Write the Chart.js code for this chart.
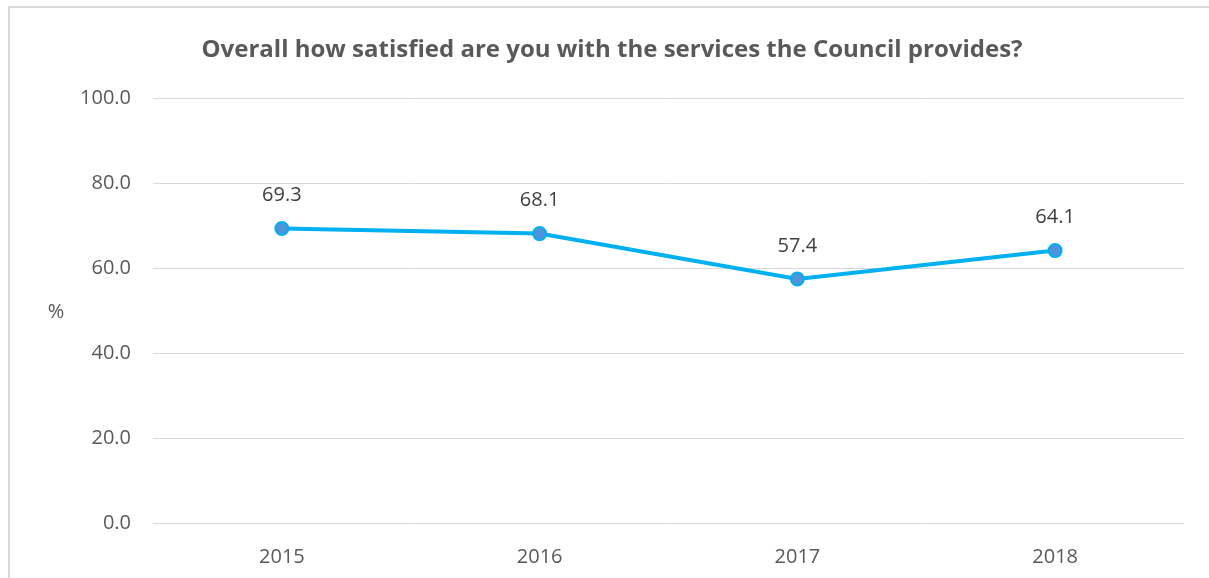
<!DOCTYPE html>
<html>
<head>
<meta charset="utf-8">
<script src="https://cdn.jsdelivr.net/npm/chart.js@4"></script>
<style>
  html, body { margin: 0; padding: 0; background: #fff; }
  #wrap { position: relative; width: 1209px; height: 578px; overflow: hidden; }
  #frame { position: absolute; left: 8px; top: 6px; width: 1210px; height: 600px;
           border-left: 2px solid #d9d9d9; border-top: 2px solid #d9d9d9; box-sizing: border-box; }
  canvas { position: absolute; left: 0; top: 0; }
</style>
</head>
<body>
<div id="wrap">
  <div id="frame"></div>
  <canvas id="my_chart" width="1209" height="578"></canvas>
</div>
<script>
const years = ['2015', '2016', '2017', '2018'];
const satisfied = [69.3, 68.1, 57.4, 64.1];
const y_ticks = [0, 20, 40, 60, 80, 100];

const font_family = "'Open Sans', 'Liberation Sans', sans-serif";

// title, "%" label and the value labels are drawn by hand
const extras = {
    id: 'extras',
    afterDatasetsDraw(chart) {
        const ctx = chart.ctx;
        const area = chart.chartArea;
        ctx.save();
        ctx.fillStyle = '#595959';
        ctx.font = 'bold 24px ' + font_family;
        ctx.textAlign = 'center';
        ctx.textBaseline = 'middle';
        ctx.fillText('Overall how satisfied are you with the services the Council provides?', 612, 50);

        ctx.font = '20px ' + font_family;
        ctx.fillText('%', 56, (area.top + area.bottom) / 2 + 2);

        ctx.fillStyle = '#404040';
        const meta = chart.getDatasetMeta(0);
        meta.data.forEach((pt, i) => {
            ctx.fillText(satisfied[i].toFixed(1), pt.x, pt.y - 33);
        });
        ctx.restore();
    }
};

new Chart(document.getElementById('my_chart'), {
    type: 'line',
    data: {
        labels: years,
        datasets: [{
            data: satisfied,
            borderColor: '#00b0f0',
            borderWidth: 4,
            pointBackgroundColor: '#4f94d8',
            pointBorderColor: '#00b0f0',
            pointBorderWidth: 2,
            pointRadius: 6.5,
            tension: 0
        }]
    },
    options: {
        responsive: false,
        animation: false,
        layout: { padding: { top: 98, right: 25, bottom: 0, left: 0 } },
        plugins: {
            legend: { display: false },
            tooltip: { enabled: false }
        },
        scales: {
            x: {
                offset: true,
                grid: { display: false },
                border: { display: false },
                ticks: { color: '#595959', font: { family: font_family, size: 20 }, padding: 14 },
                afterFit: scale => { scale.height = 55; }
            },
            y: {
                min: 0,
                max: 100,
                afterBuildTicks: scale => { scale.ticks = y_ticks.map(v => ({ value: v })); },
                grid: { color: '#d9d9d9', lineWidth: 1, drawTicks: false },
                border: { display: false },
                ticks: {
                    color: '#595959',
                    font: { family: font_family, size: 20 },
                    padding: 22,
                    callback: v => v.toFixed(1)
                },
                afterFit: scale => { scale.width = 153; }
            }
        }
    },
    plugins: [extras]
});
</script>
</body>
</html>
